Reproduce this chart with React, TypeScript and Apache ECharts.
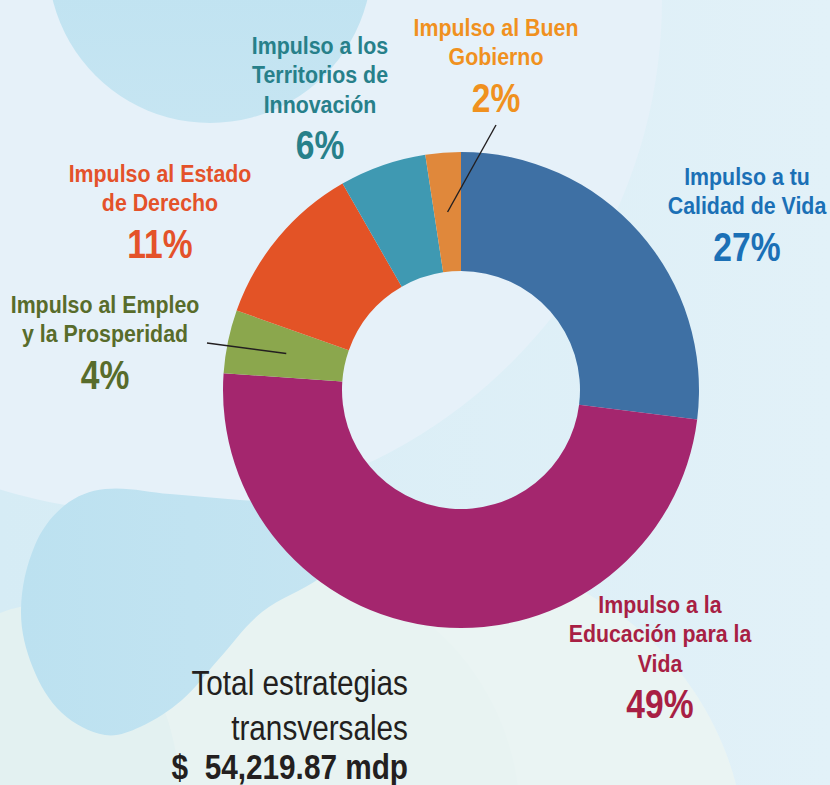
import React, { useEffect, useRef } from 'react';
import * as echarts from 'echarts';

// ---- data ----
const categories = [
  'Impulso a tu\nCalidad de Vida',
  'Impulso a la\nEducación para la\nVida',
  'Impulso al Empleo\ny la Prosperidad',
  'Impulso al Estado\nde Derecho',
  'Impulso a los\nTerritorios de\nInnovación',
  'Impulso al Buen\nGobierno',
];
const shares = [27.0, 49.2, 4.3, 11.3, 5.9, 2.4];
const sliceColors = ['#3e70a4', '#a4266e', '#8ba74d', '#e35326', '#3f99b2', '#e0883b'];
const labelColors = ['#1b70b6', '#a81f44', '#586c2b', '#e4522a', '#27808a', '#f0911f'];
const totalLines = ['Total estrategias', 'transversales'];
const totalAmount = '$  54,219.87 mdp';

// ---- layout ----
const W = 830;
const H = 785;
const CX = 461;
const CY = 390;
const R_IN = 119;
const R_OUT = 238;
const FONT = "'Liberation Sans', Arial, Helvetica, sans-serif";
const NAME_SCALE = 0.89;
const PCT_SCALE = 0.82;
const TOTAL_SCALE = 0.85;
const NAME_SIZE = 24;
const NAME_LH = 29.5;
const PCT_SIZE = 41;
// label anchor: [centre x, first-line baseline]
const LABEL_POS: number[][] = [
  [747, 185],
  [660, 613],
  [105, 313],
  [160, 182],
  [320, 54],
  [496, 36],
];
const LINE_END: (number[] | null)[] = [null, null, [207, 343], null, null, [496, 125]];

function midPoint(i: number, r: number): number[] {
  const sum = shares.reduce((a, b) => a + b, 0);
  let before = 0;
  for (let k = 0; k < i; k++) before += shares[k];
  const frac = (before + shares[i] / 2) / sum;
  const ang = frac * Math.PI * 2;
  return [CX + r * Math.sin(ang), CY - r * Math.cos(ang)];
}

function buildLabels(): any[] {
  const sum = shares.reduce((a, b) => a + b, 0);
  const els: any[] = [];
  categories.forEach((name, i) => {
    const [x, b1] = LABEL_POS[i];
    const n = name.split('\n').length;
    const pct = Math.round((shares[i] / sum) * 100);
    els.push({
      type: 'text', silent: true, z: 10, x, y: b1 - 23.3, scaleX: NAME_SCALE,
      style: {
        text: name, font: `bold ${NAME_SIZE}px ${FONT}`, lineHeight: NAME_LH, fill: labelColors[i],
        align: 'center', textAlign: 'center', verticalAlign: 'top', textVerticalAlign: 'top',
      },
    });
    els.push({
      type: 'text', silent: true, z: 10, x, y: b1 + (n - 1) * NAME_LH + 46 - 14.2, scaleX: PCT_SCALE,
      style: {
        text: `${pct}%`, font: `bold ${PCT_SIZE}px ${FONT}`, fill: labelColors[i],
        align: 'center', textAlign: 'center', verticalAlign: 'middle', textVerticalAlign: 'middle',
      },
    });
    const end = LINE_END[i];
    if (end) {
      const s = midPoint(i, (R_IN + R_OUT) / 2);
      els.push({
        type: 'line', silent: true, z: 10,
        shape: { x1: s[0], y1: s[1], x2: end[0], y2: end[1] },
        style: { stroke: '#231f20', lineWidth: 1.4 },
      });
    }
  });
  return els;
}

export default function App() {
  const ref = useRef<HTMLDivElement>(null);
  useEffect(() => {
    document.body.style.margin = '0';
    if (!ref.current) return;
    const chart = echarts.init(ref.current, undefined, { renderer: 'svg' });
    const totalStyle = { fill: '#231f20', align: 'right', textAlign: 'right', verticalAlign: 'middle', textVerticalAlign: 'middle' };
    const option: any = {
      animation: false,
      backgroundColor: new echarts.graphic.LinearGradient(0, 0, 1, 0, [
        { offset: 0, color: '#d6ecf5' },
        { offset: 1, color: '#e2f1f8' },
      ]),
      graphic: [
        // upper pale area
        { type: 'circle', silent: true, z: -10, shape: { cx: 150, cy: 0, r: 512 }, style: { fill: '#e6f1f9' } },
        // lower pale area
        { type: 'circle', silent: true, z: -9, shape: { cx: 440, cy: 862, r: 306 }, style: { fill: '#eaf4f3' } },
        { type: 'ellipse', silent: true, z: -9, shape: { cx: 280, cy: 820, rx: 240, ry: 250 }, style: { fill: '#e8f3f2' } },
        { type: 'ellipse', silent: true, z: -9, shape: { cx: 40, cy: 800, rx: 140, ry: 195 }, style: { fill: '#e3f1f1' } },
        // top-left circle
        {
          type: 'circle', silent: true, z: -8, shape: { cx: 210, cy: -39, r: 162 },
          style: { fill: new echarts.graphic.LinearGradient(0, 0, 0, 1, [{ offset: 0, color: '#b9e0f0' }, { offset: 1, color: '#c6e5f2' }]) },
        },
        // bottom-left blob
        {
          type: 'polygon', silent: true, z: -8,
          shape: {
            smooth: 0.35,
            points: [
              [105, 489], [170, 494], [240, 500], [320, 505], [362, 540], [320, 578],
              [262, 612], [218, 660], [182, 700], [140, 727], [105, 735], [62, 713],
              [33, 668], [21, 610], [35, 545], [65, 505],
            ],
          },
          style: { fill: new echarts.graphic.LinearGradient(0, 0, 1, 0, [{ offset: 0, color: '#bce1f0' }, { offset: 1, color: '#c6e5f2' }]) },
        },
        // total text
        { type: 'text', silent: true, z: 10, x: 408, y: 683, scaleX: TOTAL_SCALE, style: { ...totalStyle, text: totalLines[0], font: `35px ${FONT}` } },
        { type: 'text', silent: true, z: 10, x: 408, y: 728, scaleX: TOTAL_SCALE, style: { ...totalStyle, text: totalLines[1], font: `35px ${FONT}` } },
        { type: 'text', silent: true, z: 10, x: 408, y: 767, scaleX: TOTAL_SCALE, style: { ...totalStyle, text: totalAmount, font: `bold 35px ${FONT}` } },
        ...buildLabels(),
      ],
      series: [
        {
          type: 'pie',
          center: [CX, CY],
          radius: [R_IN, R_OUT],
          startAngle: 90,
          clockwise: true,
          silent: true,
          emphasis: { disabled: true },
          label: { show: false },
          labelLine: { show: false },
          data: categories.map((name, i) => ({
            name,
            value: shares[i],
            itemStyle: { color: sliceColors[i] },
          })),
        },
      ],
    };
    chart.setOption(option);
    return () => chart.dispose();
  }, []);
  return <div ref={ref} style={{ position: 'absolute', left: 0, top: 0, width: W, height: H }} />;
}
